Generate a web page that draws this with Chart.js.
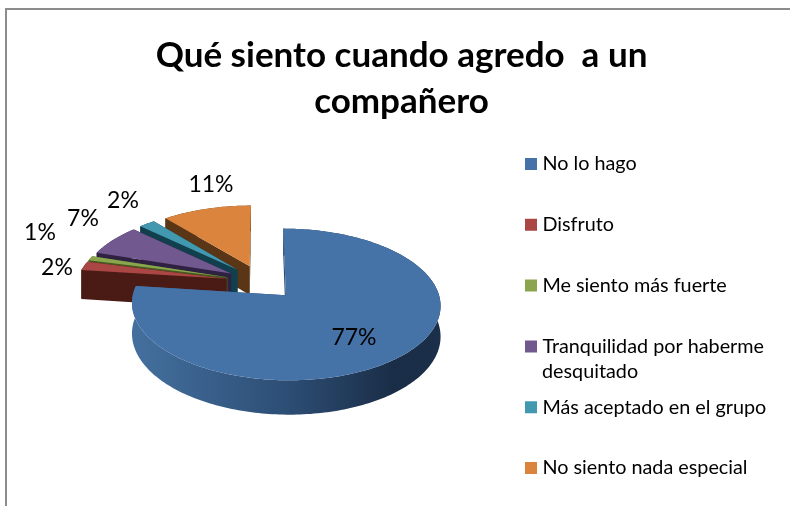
<!DOCTYPE html>
<html>
<head>
<meta charset="utf-8">
<style>html,body{margin:0;padding:0;background:#fff;overflow:hidden}#w{position:absolute;left:0;top:0;width:790px;height:506px}</style>
<script src="https://cdn.jsdelivr.net/npm/chart.js@4"></script>
</head>
<body>
<div id="w"><canvas id="c" width="790" height="506"></canvas></div>
<script>
const titleLines = ['Qué siento cuando agredo  a un', 'compañero'];
const categories = ['No lo hago', 'Disfruto', 'Me siento más fuerte', 'Tranquilidad por haberme desquitado', 'Más aceptado en el grupo', 'No siento nada especial'];
const legendFirstLines = ['No lo hago', 'Disfruto', 'Me siento más fuerte', 'Tranquilidad por haberme', 'Más aceptado en el grupo', 'No siento nada especial'];
const values = [77, 2, 1, 7, 2, 11];
const topColors = ['#4572A7', '#AA4643', '#89A54E', '#71588F', '#4198AF', '#DB843D'];
const wallColors = ['#2e4f78', '#4a1a14', '#47591f', '#2e2142', '#123f4e', '#5b3616'];

// Page layout and 3D view settings (not data)
const FONT = 'Lato, Carlito, Calibri, sans-serif';
const view = {cx: 261.6, cy: 282, gx: 149.8, gy: 71.5, persp: 0.12, explode: 0.24, depth: 29.5};
const labelCentres = [[354, 338], [57, 268], [40, 233], [83, 219], [123, 201], [211, 185]];
const legendBox = {x: 529.5, firstY: 163};
const titleShift = {x: 6.5, y: 32.5};

function project(u, v, z) {
  const w = 1 - view.persp * v;
  return [view.cx + view.gx * u / w, view.cy + (view.gy * v + (z || 0) * view.depth) / w];
}
function outline(arc) {
  // Chart.js angles: 0 = east, clockwise. Plane coords: u east, v toward viewer.
  const mid = (arc.startAngle + arc.endAngle) / 2;
  const a0 = [Math.cos(mid) * view.explode, Math.sin(mid) * view.explode];
  const pts = [];
  const n = Math.max(4, Math.ceil((arc.endAngle - arc.startAngle) / 0.02));
  for (let i = 0; i <= n; i++) {
    const t = arc.startAngle + (arc.endAngle - arc.startAngle) * i / n;
    pts.push([a0[0] + Math.cos(t), a0[1] + Math.sin(t)]);
  }
  return {apex: a0, rim: pts};
}
function fillPath(c, list) {
  c.beginPath();
  list.forEach((a, k) => { k ? c.lineTo(a[0], a[1]) : c.moveTo(a[0], a[1]); });
  c.closePath(); c.fill();
}
const pie3d = {
  id: 'pie3d',
  afterLayout(chart) {
    const lg = chart.legend, p = lg.options.labels.padding;
    lg.left = legendBox.x - p; lg.right = 790;
    lg.top = legendBox.firstY - lg.options.labels.font.size * 0.45 - p; lg.bottom = 700;
    const tb = chart.titleBlock;
    tb.left += titleShift.x; tb.right += titleShift.x;
    tb.top += titleShift.y; tb.bottom += titleShift.y;
  },
  beforeDraw(chart) {
    const c = chart.ctx;
    c.save();
    c.fillStyle = '#fff'; c.fillRect(0, 0, 790, 506);
    c.strokeStyle = '#8c8c8c'; c.lineWidth = 2;
    c.beginPath(); c.moveTo(6, 506); c.lineTo(6, 9); c.lineTo(790, 9); c.stroke();
    c.restore();
  },
  beforeDatasetsDraw(chart) {
    const c = chart.ctx, arcs = chart.getDatasetMeta(0).data;
    const grad = c.createLinearGradient(132, 0, 441, 0);
    grad.addColorStop(0, '#44709f'); grad.addColorStop(0.5, '#2d4e75'); grad.addColorStop(0.85, '#1a2d47'); grad.addColorStop(1, '#1b2f4a');
    const order = [5, 4, 3, 2, 1, 0];
    c.save();
    order.forEach(i => {
      const o = outline(arcs[i]), rim = o.rim, ap = o.apex;
      c.fillStyle = i === 0 ? grad : wallColors[i];
      const first = rim[0], last = rim[rim.length - 1];
      fillPath(c, [project(ap[0], ap[1], 0), project(first[0], first[1], 0), project(first[0], first[1], 1), project(ap[0], ap[1], 1)]);
      fillPath(c, [project(ap[0], ap[1], 0), project(last[0], last[1], 0), project(last[0], last[1], 1), project(ap[0], ap[1], 1)]);
      fillPath(c, rim.map(p => project(p[0], p[1], 0)).concat(rim.slice().reverse().map(p => project(p[0], p[1], 1))));
      c.fillStyle = topColors[i];
      fillPath(c, [project(ap[0], ap[1], 0)].concat(rim.map(p => project(p[0], p[1], 0))));
    });
    c.restore();
    return false;
  },
  afterDraw(chart) {
    const c = chart.ctx, total = values.reduce((a, b) => a + b, 0);
    c.save();
    c.fillStyle = '#000'; c.textAlign = 'center'; c.textBaseline = 'middle';
    c.font = '23px ' + FONT;
    values.forEach((v, i) => c.fillText(Math.round(v / total * 100) + '%', labelCentres[i][0], labelCentres[i][1]));
    c.textAlign = 'left';
    c.font = chart.legend.options.labels.font.size + 'px ' + FONT;
    const extra = categories[3].slice(legendFirstLines[3].length + 1);
    c.fillText(extra, 542, 372);
    c.restore();
  }
};
new Chart(document.getElementById('c'), {
  type: 'pie',
  data: {labels: categories, datasets: [{data: values, backgroundColor: topColors, borderWidth: 0}]},
  plugins: [pie3d],
  options: {
    responsive: false, animation: false,
    layout: {padding: 0},
    plugins: {
      tooltip: {enabled: false},
      title: {display: true, text: titleLines, color: '#000', position: 'top', align: 'center',
        font: {family: FONT, size: 35, weight: 'bold', lineHeight: 1.32}, padding: 0},
      legend: {display: true, position: 'right', align: 'start',
        labels: {color: '#000', font: {family: FONT, size: 19.8}, boxWidth: 3, boxHeight: 3, padding: 41,
          generateLabels: () => legendFirstLines.map((t, i) => ({text: t, fillStyle: topColors[i], strokeStyle: topColors[i], lineWidth: 9, index: i, hidden: false}))}}
    }
  }
});
</script>
</body>
</html>
